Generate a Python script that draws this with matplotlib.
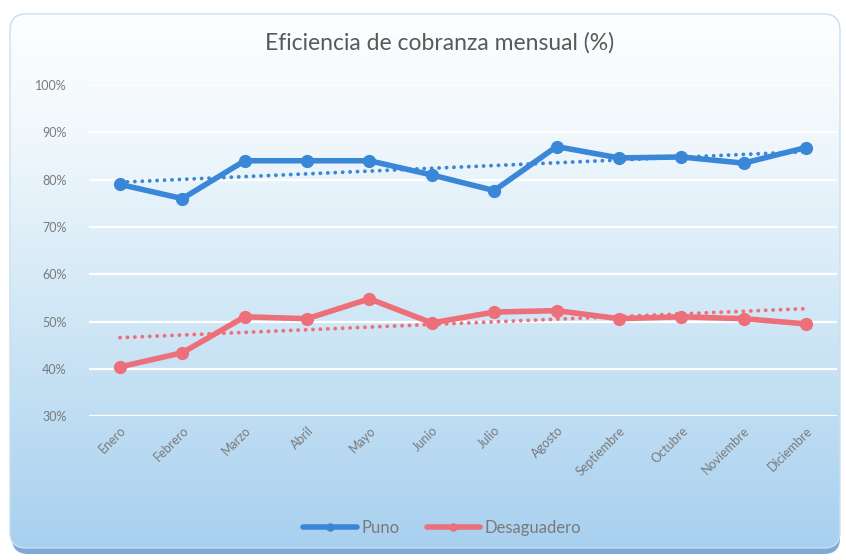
import matplotlib
matplotlib.use("Agg")
import matplotlib.pyplot as plt
import numpy as np
from matplotlib.patches import FancyBboxPatch
from matplotlib.colors import LinearSegmentedColormap

plt.rcParams['font.family'] = ['Lato', 'DejaVu Sans']

meses = ['Enero', 'Febrero', 'Marzo', 'Abril', 'Mayo', 'Junio', 'Julio',
         'Agosto', 'Septiembre', 'Octubre', 'Noviembre', 'Diciembre']
puno = [79.0, 76.0, 84.0, 84.0, 84.0, 81.0, 77.7, 87.0, 84.6, 84.8, 83.5, 86.8]
desaguadero = [40.4, 43.4, 51.0, 50.6, 54.8, 49.7, 52.0, 52.3, 50.6, 51.0, 50.6, 49.5]
y_ticks = [30, 40, 50, 60, 70, 80, 90, 100]

azul = '#3a87d8'
rojo = '#ec6f7a'
gris = '#7a7a7a'

fig = plt.figure(figsize=(8.46, 5.6), dpi=100)

# fondo: marco redondeado con degradado blanco -> celeste y sombra abajo
bg = fig.add_axes([0, 0, 1, 1])
sombra = FancyBboxPatch((12, 20), 828, 534, boxstyle="round,pad=0,rounding_size=16",
                        fc='#7ea8d6', ec='none', zorder=0)
bg.add_patch(sombra)
marco = FancyBboxPatch((10, 14), 830, 534, boxstyle="round,pad=0,rounding_size=16",
                       fc='none', ec='#c9dff0', lw=1, zorder=2)
bg.add_patch(marco)
cmap = LinearSegmentedColormap.from_list(
    'fondo', [(0, '#fdfeff'), (0.22, '#f1f8fc'), (0.55, '#d2e8f6'), (1, '#a8d0ef')])
grad = np.linspace(0, 1, 256)[:, None]
img = bg.imshow(grad, extent=(10, 840, 548, 14), cmap=cmap, aspect='auto', zorder=1)
img.set_clip_path(marco)
bg.set_xlim(0, 846)
bg.set_ylim(560, 0)
bg.axis('off')

ax = fig.add_axes([0.105, 0.257, 0.8846, 0.591])
ax.patch.set_alpha(0)
for s in ax.spines.values():
    s.set_visible(False)

x = np.arange(len(meses))
ax.plot(x, puno, color=azul, lw=4, marker='o', ms=8.5, solid_capstyle='round',
        label='Puno', zorder=4)
ax.plot(x, desaguadero, color=rojo, lw=4, marker='o', ms=8.5, solid_capstyle='round',
        label='Desaguadero', zorder=4)

# lineas de tendencia (lineal)
for serie, c in ((puno, azul), (desaguadero, rojo)):
    m, b = np.polyfit(x, serie, 1)
    ax.plot(x, m * x + b, color=c, lw=2.8, linestyle=(0, (0.01, 1.9)),
            dash_capstyle='round', zorder=3)

ax.set_xlim(-0.5, len(meses) - 0.5)
ax.set_ylim(30, 100)
ax.set_yticks(y_ticks)
ax.set_yticklabels([f'{v}%' for v in y_ticks])
ax.set_xticks(x)
ax.set_xticklabels(meses, rotation=45, ha='right', va='top', rotation_mode='anchor')
ax.tick_params(axis='both', length=0, labelcolor=gris, labelsize=9)
ax.tick_params(axis='y', pad=16)
ax.tick_params(axis='x', pad=6)
ax.yaxis.grid(True, color='white', lw=1.6, zorder=0)
ax.set_axisbelow(True)

fig.text(0.52, 0.923, 'Eficiencia de cobranza mensual (%)', ha='center', va='center',
         fontsize=16.5, color='#595959')

fig.legend(loc='center', bbox_to_anchor=(0.523, 0.057), ncol=2, frameon=False,
           fontsize=12, labelcolor=gris, handlelength=3.2, handletextpad=0.3,
           columnspacing=1.6, markerscale=0.6)

fig.savefig('out.png', dpi=100)
